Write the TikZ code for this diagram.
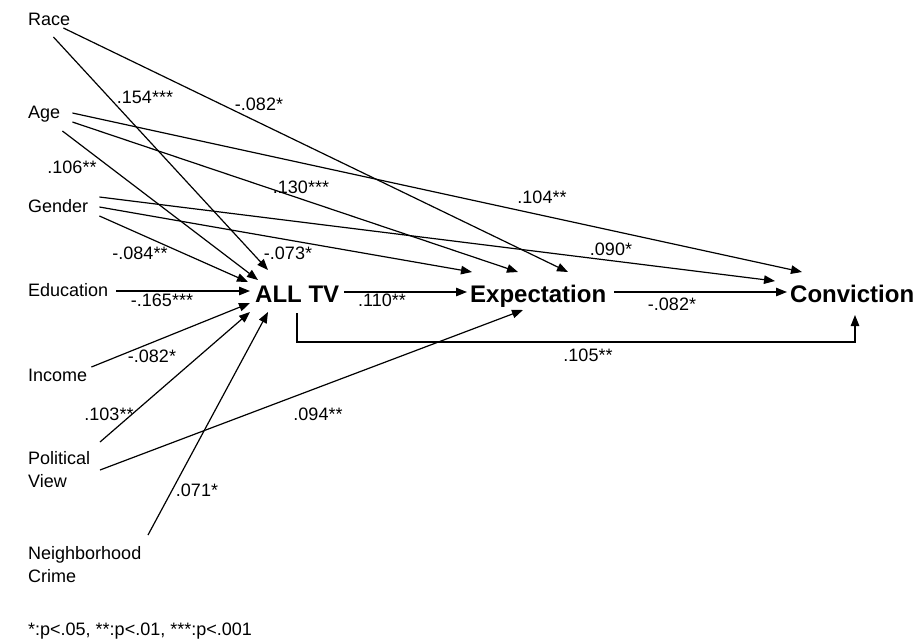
\documentclass[tikz,border=0pt]{standalone}
\usepackage{fontspec}
\setmainfont{Liberation Sans}
\usetikzlibrary{arrows.meta,calc}
\begin{document}
\begin{tikzpicture}[x=1pt,y=-1pt,
  var/.style={anchor=base west,inner sep=0pt,font=\fontsize{18}{22.5}\selectfont,align=left},
  mainv/.style={anchor=base west,inner sep=0pt,font=\fontsize{24}{28}\selectfont\bfseries},
  coef/.style={inner sep=0pt,font=\fontsize{18}{22}\selectfont},
  link/.style={line width=1.2pt,-{Triangle[length=11pt,width=8.5pt]}}]
\useasboundingbox (0,0) rectangle (919,641);
% variables
\node[var] (race) at (28,25) {Race};
\node[var] (age) at (28,118) {Age};
\node[var] (gender) at (28,212) {Gender};
\node[var] (edu) at (28,296) {Education};
\node[var] (income) at (28,381) {Income};
\node[var] (polit) at (28,487) {Political\\View};
\node[var] (crime) at (28,582) {Neighborhood\\Crime};
\node[var] (foot) at (28,635) {*:p<.05, **:p<.01, ***:p<.001};
\node[mainv] (tv) at (255,302) {ALL TV};
\node[mainv] (exp) at (470,302) {Expectation};
\node[mainv] (conv) at (790,302) {Conviction};
% paths into ALL TV
\draw[link] ($(race.base east)+(-17,12)$) -- ($(tv.base west)+(13,-32)$);
\draw[link] ($(age.base east)+(2,13)$) -- ($(tv.base west)+(3,-22)$);
\draw[link] ($(gender.base east)+(11,4)$) -- ($(tv.base west)+(-7,-20)$);
\draw[link] ($(edu.base east)+(8,-5)$) -- ($(tv.base west)+(-5,-11)$);
\draw[link] ($(income.base east)+(4,-14)$) -- ($(tv.base west)+(-5,1)$);
\draw[link] ($(polit.base west)+(72,-45)$) -- ($(tv.base west)+(-5,10)$);
\draw[link] ($(crime.base west)+(120,-47)$) -- ($(tv.base west)+(13,10)$);
% paths into Expectation
\draw[link] ($(race.base east)+(-7,3)$) -- ($(exp.base west)+(98,-30)$);
\draw[link] ($(age.base east)+(12,4)$) -- ($(exp.base west)+(48,-30)$);
\draw[link] ($(gender.base east)+(11,-5)$) -- ($(exp.base west)+(2,-30)$);
\draw[link] ($(polit.base west)+(72,-17)$) -- ($(exp.base west)+(53,8)$);
\draw[link] ($(tv.base east)+(5,-10)$) -- ($(exp.base west)+(-3,-10)$);
% paths into Conviction
\draw[link] ($(age.base east)+(12,-5)$) -- ($(conv.base west)+(12,-30)$);
\draw[link] ($(gender.base east)+(11,-15)$) -- ($(conv.base west)+(-15,-21)$);
\draw[link] ($(exp.base east)+(8,-10)$) -- ($(conv.base west)+(-3,-10)$);
\draw[link] ($(tv.base west)+(42,11)$) |- ++(0,29) -| ($(conv.base west)+(65,13)$);
% coefficients
\node[coef] (c1) at (145,97) {.154***};
\node[coef] (c2) at (259,104) {-.082*};
\node[coef] (c3) at (72,167) {.106**};
\node[coef] (c4) at (301,187) {.130***};
\node[coef] (c5) at (542,197) {.104**};
\node[coef] (c6) at (140,253) {-.084**};
\node[coef] (c7) at (288,253) {-.073*};
\node[coef] (c8) at (611,249) {.090*};
\node[coef] (c9) at (162,300) {-.165***};
\node[coef] (c10) at (382,300) {.110**};
\node[coef] (c11) at (672,304) {-.082*};
\node[coef] (c12) at (588,355) {.105**};
\node[coef] (c13) at (152,356) {-.082*};
\node[coef] (c14) at (109,414) {.103**};
\node[coef] (c15) at (318,414) {.094**};
\node[coef] (c16) at (197,490) {.071*};
\end{tikzpicture}
\end{document}
